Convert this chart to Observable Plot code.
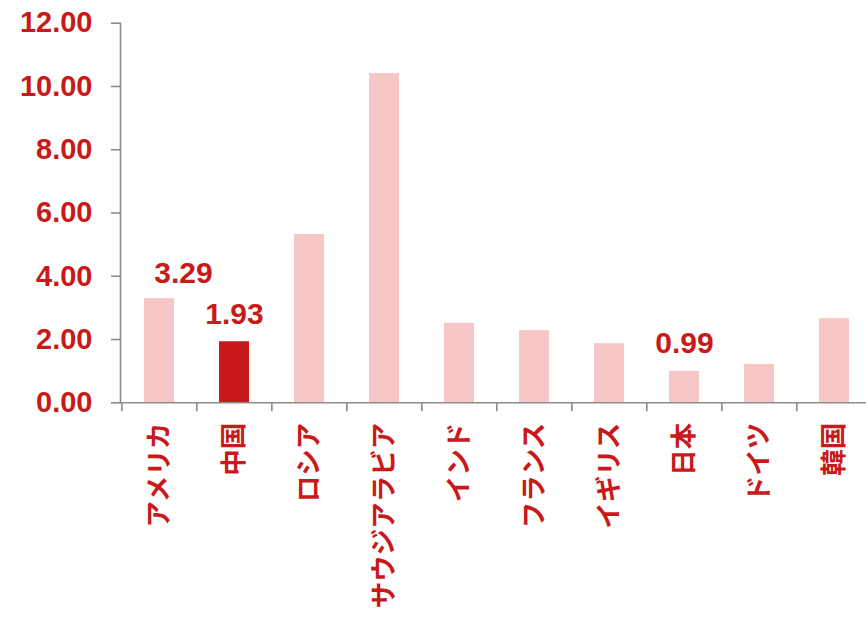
<!DOCTYPE html>
<html>
<head>
<meta charset="utf-8">
<script src="https://cdn.jsdelivr.net/npm/d3@7"></script>
<script src="https://cdn.jsdelivr.net/npm/@observablehq/plot@0.6"></script>
<style>
  html, body { margin: 0; padding: 0; background: #fff; }
  #chart { width: 866px; height: 621px; overflow: hidden; }
</style>
</head>
<body>
<div id="chart"></div>
<script>
// Data
const countries = ["アメリカ", "中国", "ロシア", "サウジアラビア", "インド", "フランス", "イギリス", "日本", "ドイツ", "韓国"];
const values = [3.29, 1.93, 5.32, 10.41, 2.51, 2.28, 1.87, 0.99, 1.21, 2.66];
const highlighted = ["中国"];
const labeledCountries = ["中国", "日本"];
const shiftedLabelCountries = ["アメリカ"];
const yTicks = [0, 2, 4, 6, 8, 10, 12];

const data = countries.map((c, i) => ({country: c, value: values[i]}));

const RED = "#c81a1a";
const PINK = "#f7c6c6";
const GRAY = "#8c8c8c";
const NUM_FONT = "'Liberation Sans', Arial, sans-serif";
const JP_FONT = "'Noto Sans CJK JP', sans-serif";

const chart = Plot.plot({
  width: 866,
  height: 621,
  marginLeft: 120,
  marginRight: 0,
  marginTop: 22.7,
  marginBottom: 218.7,
  style: {background: "#fff", overflow: "visible"},
  x: {domain: countries, range: [120, 873], paddingInner: 0.6, paddingOuter: 0.3, axis: null, label: null},
  y: {domain: [0, 12], axis: null, label: null},
  marks: [
    Plot.barY(data, {
      x: "country",
      y: "value",
      fill: d => highlighted.includes(d.country) ? RED : PINK
    }),
    // value labels
    Plot.text(data.filter(d => labeledCountries.includes(d.country)), {
      x: "country", y: "value", text: d => d.value.toFixed(2),
      lineAnchor: "bottom", dy: -18,
      fill: RED, fontSize: 30, fontWeight: "bold", fontFamily: NUM_FONT
    }),
    Plot.text(data.filter(d => shiftedLabelCountries.includes(d.country)), {
      x: "country", y: "value", text: d => d.value.toFixed(2),
      lineAnchor: "bottom", dy: -16, dx: 24,
      fill: RED, fontSize: 30, fontWeight: "bold", fontFamily: NUM_FONT
    }),
    // axes lines
    Plot.frame({anchor: "left", stroke: GRAY, strokeWidth: 1.6}),
    Plot.ruleY([0], {stroke: GRAY, strokeWidth: 1.6}),
    // y axis ticks & labels
    Plot.axisY({
      ticks: yTicks, label: null, tickSize: 9, tickPadding: 19, tickFormat: d => d.toFixed(2),
      stroke: GRAY, strokeWidth: 1.6, fill: RED, fontSize: 29, fontWeight: "bold", fontFamily: NUM_FONT
    }),
    // x axis boundary ticks
    Plot.axisX({
      label: null, tickSize: 9, tickFormat: () => "", dx: -37.65, stroke: GRAY, strokeWidth: 1.6
    }),
    // x category labels (rotated)
    Plot.text(countries, {
      x: d => d, frameAnchor: "bottom", rotate: -90, textAnchor: "end", lineAnchor: "middle",
      dy: 20, fill: RED, fontSize: 26.5, fontWeight: "bold", fontFamily: JP_FONT
    })
  ]
});

document.getElementById("chart").appendChild(chart);
</script>
</body>
</html>
